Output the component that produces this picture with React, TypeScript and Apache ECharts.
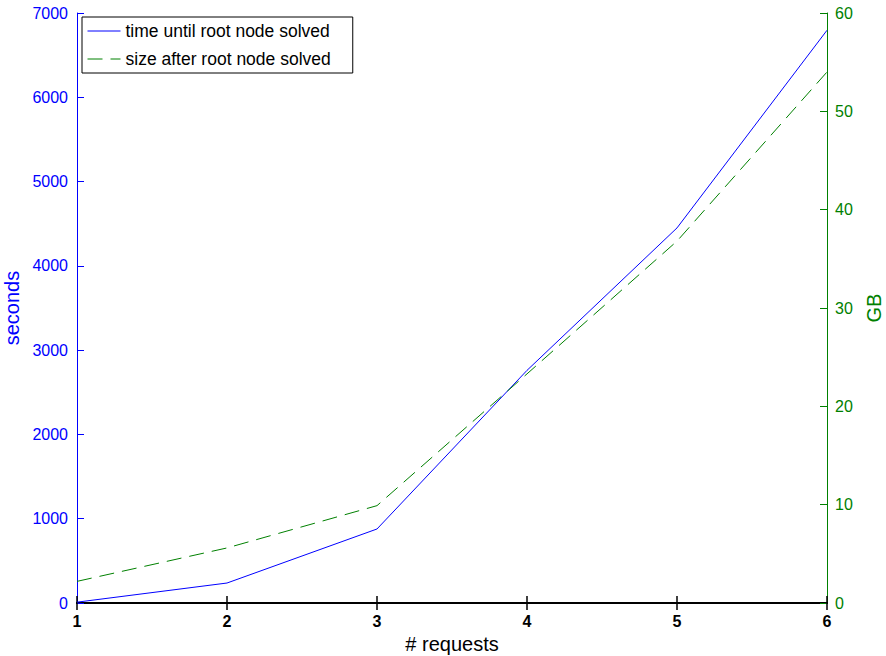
import React, { useEffect, useRef } from "react";
import * as echarts from "echarts";

const requests = [1, 2, 3, 4, 5, 6];
const secondsValues = [10, 237, 878, 2760, 4450, 6795];
const gbValues = [2.2, 5.6, 9.9, 23.3, 36.8, 54.0];
const seriesNames = ["time until root node solved", "size after root node solved"];

const FONT = "Liberation Sans, Arial, Helvetica, sans-serif";
const BLUE = "#0000ff";
const GREEN = "#008000";

export default function App() {
  const ref = useRef<HTMLDivElement>(null);
  useEffect(() => {
    if (!ref.current) return;
    const chart = echarts.init(ref.current, undefined, { renderer: "svg" });
    chart.setOption({
      animation: false,
      backgroundColor: "#ffffff",
      textStyle: { fontFamily: FONT },
      grid: { left: 77, right: 59, top: 13, bottom: 53, containLabel: false, outerBoundsMode: "none" },
      legend: {
        orient: "vertical",
        left: 82,
        top: 17,
        itemWidth: 33,
        itemHeight: 14,
        itemGap: 10,
        padding: [5, 22, 5, 5],
        backgroundColor: "#ffffff",
        borderColor: "#000000",
        borderWidth: 1,
        borderRadius: 0,
        itemStyle: { opacity: 0 },
        lineStyle: { width: 1 },
        textStyle: { fontSize: 17.5, color: "#000", fontFamily: FONT },
        data: seriesNames,
      },
      xAxis: [
        {
          type: "value",
          min: 1,
          max: 6,
          interval: 1,
          position: "bottom",
          name: "# requests",
          nameLocation: "middle",
          nameGap: 31,
          nameTextStyle: { fontSize: 20, color: "#000", fontFamily: FONT },
          axisLine: { show: true, lineStyle: { color: "#000", width: 2 } },
          axisTick: { show: true, inside: true, length: 7, lineStyle: { color: "#000", width: 1.5 } },
          axisLabel: { color: "#000", fontSize: 16, fontWeight: "bold", margin: 10, fontFamily: FONT },
          splitLine: { show: false },
        },
        {
          type: "value",
          min: 1,
          max: 6,
          interval: 1,
          position: "top",
          axisLine: { show: true, lineStyle: { color: "#000", width: 2 } },
          axisTick: { show: true, inside: true, length: 7, lineStyle: { color: "#000", width: 1.5 } },
          axisLabel: { show: false },
          splitLine: { show: false },
        },
      ],
      yAxis: [
        {
          type: "value",
          min: 0,
          max: 7000,
          interval: 1000,
          position: "left",
          name: "seconds",
          nameLocation: "middle",
          nameGap: 52,
          nameTextStyle: { fontSize: 20, color: BLUE, fontFamily: FONT },
          axisLine: { show: true, lineStyle: { color: BLUE, width: 1 } },
          axisTick: { show: true, inside: true, length: 7, lineStyle: { color: BLUE } },
          axisLabel: { color: BLUE, fontSize: 16, margin: 9, fontFamily: FONT, formatter: (v: number) => String(v) },
          splitLine: { show: false },
        },
        {
          type: "value",
          min: 0,
          max: 60,
          interval: 10,
          position: "right",
          name: "GB",
          nameLocation: "middle",
          nameGap: 35,
          nameTextStyle: { fontSize: 20, color: GREEN, fontFamily: FONT },
          axisLine: { show: true, lineStyle: { color: GREEN, width: 1 } },
          axisTick: { show: true, inside: true, length: 7, lineStyle: { color: GREEN } },
          axisLabel: { color: GREEN, fontSize: 16, margin: 8, fontFamily: FONT, formatter: (v: number) => String(v) },
          splitLine: { show: false },
        },
      ],
      series: [
        {
          name: seriesNames[0],
          type: "line",
          xAxisIndex: 0,
          yAxisIndex: 0,
          symbol: "none",
          showSymbol: false,
          color: BLUE,
          lineStyle: { color: BLUE, width: 1 },
          data: requests.map((r, i) => [r, secondsValues[i]]),
        },
        {
          name: seriesNames[1],
          type: "line",
          xAxisIndex: 0,
          yAxisIndex: 1,
          symbol: "none",
          showSymbol: false,
          color: GREEN,
          lineStyle: { color: GREEN, width: 1, type: [15, 8] },
          data: requests.map((r, i) => [r, gbValues[i]]),
        },
      ],
    });
    return () => chart.dispose();
  }, []);
  return <div ref={ref} style={{ width: 886, height: 656, position: "absolute", left: 0, top: 0 }} />;
}
